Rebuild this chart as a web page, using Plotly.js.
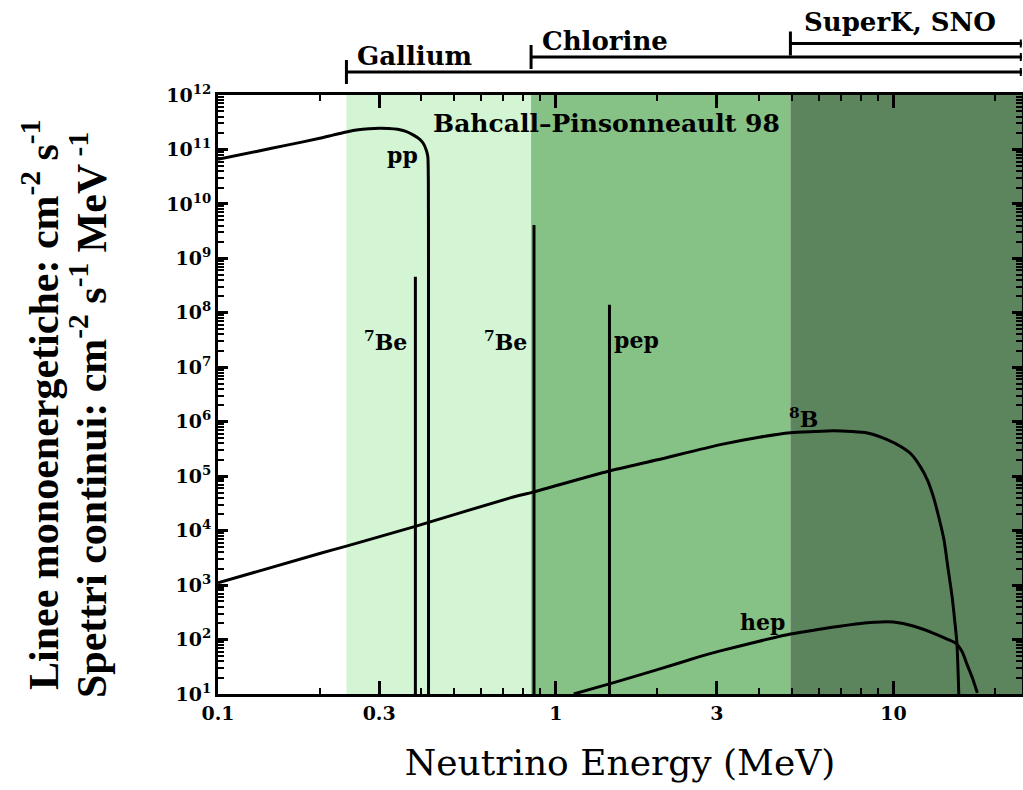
<!DOCTYPE html>
<html>
<head>
<meta charset="utf-8">
<script src="https://cdn.plot.ly/plotly-3.0.1.min.js"></script>
<style>html,body{margin:0;padding:0;background:#fff;}#chart{width:1023px;height:790px;}</style>
</head>
<body>
<div id="chart"></div>
<script>
// ---------- data ----------
const ppEnergy = [0.1, 0.13, 0.16, 0.2, 0.22, 0.24, 0.26, 0.28, 0.3, 0.32, 0.34, 0.36, 0.378, 0.395, 0.405, 0.413, 0.418, 0.4195, 0.4199, 0.42];
const ppFlux   = [6.6e10, 9.2e10, 1.2e11, 1.6e11, 1.85e11, 2.1e11, 2.3e11, 2.4e11, 2.45e11, 2.43e11, 2.35e11, 2.15e11, 1.85e11, 1.55e11, 1.3e11, 1.0e11, 7.4e10, 2.5e10, 1e9, 10];

const b8Energy = [0.1, 0.2, 0.24, 0.384, 0.733, 0.856, 1.43, 2.0, 3.07, 4.0, 4.95, 5.8, 6.64, 7.5, 8.36, 9.57, 10.5, 11.3, 12.0, 12.6, 13.1, 13.6, 14.1, 14.5, 14.9, 15.2, 15.4, 15.6];
const b8Flux   = [1.1e3, 3.8e3, 5.2e3, 1.2e4, 4.0e4, 5.1e4, 1.23e5, 2.0e5, 3.8e5, 5.2e5, 6.3e5, 6.6e5, 6.8e5, 6.6e5, 6.2e5, 4.7e5, 3.5e5, 2.5e5, 1.5e5, 8.5e4, 4.3e4, 1.8e4, 6.8e3, 2.0e3, 620, 200, 87, 10];

const hepEnergy = [1.13, 1.45, 2.0, 2.68, 3.07, 4.0, 4.95, 5.5, 6.5, 7.4, 8.36, 9.2, 10.0, 11.5, 13.2, 14.4, 15.3, 16.0, 16.5, 17.1, 17.7];
const hepFlux   = [10, 15.5, 28, 49, 62, 93, 126, 141, 166, 186, 204, 211, 209, 175, 129, 102, 85, 58, 35, 20, 10.5];

const lineNames  = ['7Be', '7Be', 'pep'];
const lineEnergy = [0.384, 0.862, 1.442];
const lineFlux   = [4.6e8, 4.1e9, 1.4e8];
const fluxFloor  = 10;

const detectorNames     = ['Gallium', 'Chlorine', 'SuperK, SNO'];
const detectorThreshold = [0.24, 0.845, 4.95];

const energyRange = [0.1, 24];
const fluxRange   = [10, 1e12];

const xTickVals = [0.1, 0.3, 1, 3, 10];
const xTickText = ['0.1', '0.3', '1', '3', '10'];
const xMinorVals = [0.2, 0.4, 0.5, 0.6, 0.7, 0.8, 0.9, 2, 4, 5, 6, 7, 8, 9, 20];
const yTickVals = [1e1, 1e2, 1e3, 1e4, 1e5, 1e6, 1e7, 1e8, 1e9, 1e10, 1e11, 1e12];
const yTickText = ['10<sup>1</sup>', '10<sup>2</sup>', '10<sup>3</sup>', '10<sup>4</sup>', '10<sup>5</sup>', '10<sup>6</sup>',
                   '10<sup>7</sup>', '10<sup>8</sup>', '10<sup>9</sup>', '10<sup>10</sup>', '10<sup>11</sup>', '10<sup>12</sup>'];

// ---------- presentation ----------
const W = 1023, H = 790;
const M = {l: 218, r: 1, t: 95, b: 96};
const PW = W - M.l - M.r, PH = H - M.t - M.b;
const px = x => (x - M.l) / PW;
const py = y => (M.t + PH - y) / PH;

const yMinor = [];
for (let e = 1; e < 12; e++) for (let k = 2; k <= 9; k++) yMinor.push(k * Math.pow(10, e));

const regionColors = ['#d3f5d3', '#86c286', '#5d855d'];
const serifBold = {family: 'DejaVu Serif', size: 22, color: '#000', weight: 'bold'};

const traces = [];
const curve = (x, y, smooth) => ({x, y, type: 'scatter', mode: 'lines',
  line: smooth ? {color: '#000', width: 3, shape: 'spline', smoothing: 0.6} : {color: '#000', width: 3},
  hoverinfo: 'skip', showlegend: false, cliponaxis: true});
traces.push(curve(ppEnergy, ppFlux, true));
traces.push(curve(b8Energy, b8Flux, true));
traces.push(curve(hepEnergy, hepFlux, true));
lineEnergy.forEach((e, i) => traces.push(curve([e, e], [fluxFloor, lineFlux[i]], false)));

const shapes = [];
detectorThreshold.forEach((t, i) => {
  shapes.push({type: 'rect', xref: 'x', yref: 'paper', x0: t,
               x1: (i + 1 < detectorThreshold.length ? detectorThreshold[i + 1] : energyRange[1] * 2), y0: 0, y1: 1,
               fillcolor: regionColors[i], line: {width: 0}, layer: 'below'});
});
// detector bars above the plot
const barY = [py(72), py(57), py(43.5)];
const halfTick = 12 / PH;
detectorThreshold.forEach((t, i) => {
  shapes.push({type: 'line', xref: 'x', yref: 'paper', x0: t, x1: energyRange[1], y0: barY[i], y1: barY[i], line: {color: '#000', width: 3}});
  shapes.push({type: 'line', xref: 'x', yref: 'paper', x0: t, x1: t, y0: barY[i] - halfTick, y1: barY[i] + halfTick, line: {color: '#000', width: 3}});
  shapes.push({type: 'line', xref: 'paper', yref: 'paper', x0: 0.9985, x1: 0.9985, y0: barY[i] - 4 / PH, y1: barY[i] + 4 / PH, line: {color: '#000', width: 2}});
});

const ann = (text, x, y, font, extra) => Object.assign({text, xref: 'paper', yref: 'paper', x: px(x), y: py(y), showarrow: false, font, xanchor: 'center', yanchor: 'middle'}, extra || {});
const topFont = {family: 'DejaVu Serif', size: 26, color: '#000', weight: 'bold'};
const titleFont = {family: 'Liberation Serif', size: 42, color: '#000', weight: 'bold'};
const annotations = [
  ann(detectorNames[0], 414, 56, topFont),
  ann(detectorNames[1], 605, 41, topFont),
  ann(detectorNames[2], 900, 22, topFont),
  ann('Bahcall–Pinsonneault 98', 606, 123, {family: 'DejaVu Serif', size: 25, color: '#000', weight: 'bold'}),
  ann('pp', 402, 155, serifBold),
  ann('<sup>7</sup>Be', 385, 341, serifBold),
  ann('<sup>7</sup>Be', 505, 341, serifBold),
  ann('pep', 636, 340, serifBold),
  ann('<sup>8</sup>B', 803, 418, serifBold),
  ann('hep', 762, 622, serifBold),
  ann('Linee monoenergetiche: cm<sup>-2</sup> s<sup>-1</sup>', 41, 405, titleFont, {textangle: -90}),
  ann('Spettri continui: cm<sup>-2</sup> s<sup>-1</sup> MeV<sup> -1</sup>', 88, 415, titleFont, {textangle: -90})
];

const layout = {
  width: W, height: H,
  margin: M,
  paper_bgcolor: '#fff', plot_bgcolor: '#fff',
  showlegend: false,
  xaxis: {
    type: 'log', range: [Math.log10(energyRange[0]), Math.log10(energyRange[1])],
    tickmode: 'array', tickvals: xTickVals, ticktext: xTickText,
    ticks: 'inside', ticklen: 13, tickwidth: 3, tickcolor: '#000',
    minor: {tickmode: 'array', tickvals: xMinorVals, ticks: 'inside', ticklen: 6, tickwidth: 2, tickcolor: '#000', showgrid: false},
    showline: true, linewidth: 3, linecolor: '#000', mirror: 'ticks', showgrid: false, zeroline: false,
    tickfont: {family: 'DejaVu Serif', size: 19, color: '#000', weight: 'bold'},
    title: {text: 'Neutrino Energy (MeV)', font: {family: 'DejaVu Serif', size: 36, color: '#000'}, standoff: 28}
  },
  yaxis: {
    type: 'log', range: [Math.log10(fluxRange[0]), Math.log10(fluxRange[1])],
    tickmode: 'array', tickvals: yTickVals, ticktext: yTickText,
    ticks: 'inside', ticklen: 10, tickwidth: 3, tickcolor: '#000',
    minor: {tickmode: 'array', tickvals: yMinor, ticks: 'inside', ticklen: 6, tickwidth: 2, tickcolor: '#000', showgrid: false},
    showline: true, linewidth: 3, linecolor: '#000', mirror: 'ticks', showgrid: false, zeroline: false,
    tickfont: {family: 'DejaVu Serif', size: 19, color: '#000', weight: 'bold'}
  },
  shapes, annotations
};

Plotly.newPlot('chart', traces, layout, {staticPlot: true, displayModeBar: false});
</script>
</body>
</html>
